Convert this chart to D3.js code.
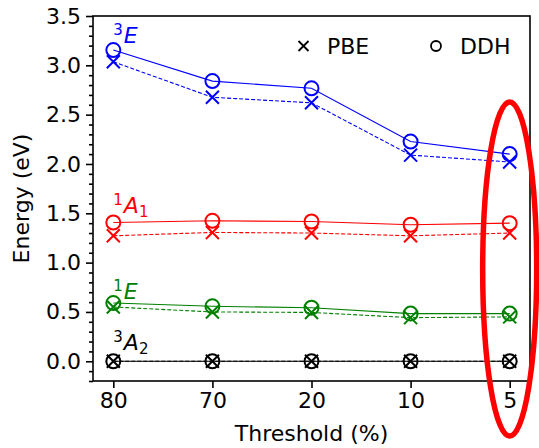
<!DOCTYPE html>
<html><head><meta charset="utf-8">
<script src="https://cdn.jsdelivr.net/npm/d3@7"></script>
<style>body{margin:0;background:#fff;} svg{display:block;font-family:"DejaVu Sans",sans-serif;}</style>
</head><body>
<svg id="c" width="539" height="448"></svg>
<script>
const thresholds = ["80","70","20","10","5"];
const states = ["3E","1A1","1E","3A2"];
const colors = ["#0000ff","#ff0000","#008000","#000000"];
const ddh = [
  [3.155, 2.84, 2.767, 2.227, 2.10],
  [1.407, 1.424, 1.417, 1.384, 1.40],
  [0.59, 0.557, 0.543, 0.483, 0.483],
  [0, 0, 0, 0, 0]
];
const pbe = [
  [3.036, 2.676, 2.62, 2.09, 2.02],
  [1.272, 1.306, 1.30, 1.272, 1.30],
  [0.55, 0.50, 0.495, 0.442, 0.45],
  [0, 0, 0, 0, 0]
];
const labelY = [3.226, 1.505, 0.635, 0.11];
const labelSup = ["3","1","1","3"];
const labelMain = ["E","A","E","A"];
const labelSub = ["","1","","2"];
const yTicks = [0,0.5,1.0,1.5,2.0,2.5,3.0,3.5];

const svg = d3.select("#c");
const L=93, R=530, T=16, B=381;
const FS=22;
const x = d3.scaleLinear().domain([-0.205,4.205]).range([L,R]);
const y = d3.scaleLinear().domain([-0.2,3.5]).range([B,T]);

// y axis major
svg.append("g").attr("transform",`translate(${L},0)`)
  .call(d3.axisLeft(y).tickValues(yTicks).tickFormat(d3.format(".1f")).tickSize(7).tickPadding(5));
// y minor
const minor = d3.range(-2,36).map(i=>i/10).filter(v=>Math.abs(v*2-Math.round(v*2))>1e-6);
svg.append("g").attr("transform",`translate(${L},0)`)
  .call(d3.axisLeft(y).tickValues(minor).tickFormat("").tickSize(4))
  .call(g=>g.select(".domain").remove());
// x axis
svg.append("g").attr("transform",`translate(0,${B})`)
  .call(d3.axisBottom(x).tickValues(d3.range(thresholds.length)).tickFormat(i=>thresholds[i]).tickSize(7).tickPadding(4));
svg.selectAll(".tick text").attr("font-size",FS).attr("font-family","DejaVu Sans").attr("fill","#000");
svg.selectAll(".tick line").attr("stroke","#000").attr("stroke-width",1.6);
svg.selectAll(".domain").remove();
// frame
svg.append("rect").attr("x",L).attr("y",T).attr("width",R-L).attr("height",B-T)
  .attr("fill","none").attr("stroke","#000").attr("stroke-width",1.6);

const line = d3.line().x((d,i)=>x(i)).y(d=>y(d));
states.forEach((s,k)=>{
  const g = svg.append("g");
  g.append("path").attr("d",line(pbe[k])).attr("fill","none").attr("stroke",colors[k])
    .attr("stroke-width",1.1).attr("stroke-dasharray","4,2");
  g.append("path").attr("d",line(ddh[k])).attr("fill","none").attr("stroke",colors[k])
    .attr("stroke-width",1.1);
  pbe[k].forEach((v,i)=>{
    const cx=x(i), cy=y(v), h=6.5;
    g.append("path").attr("d",`M${cx-h},${cy-h}L${cx+h},${cy+h}M${cx-h},${cy+h}L${cx+h},${cy-h}`)
      .attr("stroke",colors[k]).attr("stroke-width",2).attr("fill","none");
  });
  ddh[k].forEach((v,i)=>{
    g.append("circle").attr("cx",x(i)).attr("cy",y(v)).attr("r",7)
      .attr("fill","none").attr("stroke",colors[k]).attr("stroke-width",2);
  });
  const t = svg.append("text").attr("x",x(0)).attr("y",y(labelY[k])).attr("fill",colors[k]).attr("font-size",FS);
  t.append("tspan").attr("font-size",15).attr("dy",-8).text(labelSup[k]);
  t.append("tspan").attr("font-style","italic").attr("dy",8).attr("dx",1).text(labelMain[k]);
  if(labelSub[k]) t.append("tspan").attr("font-size",15).attr("dy",4).text(labelSub[k]);
});

// legend
const lg = svg.append("g");
const lx1=303.5, ly=46;
lg.append("path").attr("d",`M${lx1-5},${ly-5}L${lx1+5},${ly+5}M${lx1-5},${ly+5}L${lx1+5},${ly-5}`)
  .attr("stroke","#000").attr("stroke-width",1.8);
lg.append("text").attr("x",327).attr("y",ly+8).attr("font-size",FS).text("PBE");
lg.append("circle").attr("cx",436).attr("cy",ly).attr("r",5).attr("fill","none").attr("stroke","#000").attr("stroke-width",1.8);
lg.append("text").attr("x",460).attr("y",ly+8).attr("font-size",FS).text("DDH");

// axis titles
svg.append("text").attr("transform",`translate(29,${(T+B)/2}) rotate(-90)`).attr("text-anchor","middle")
  .attr("font-size",FS).text("Energy (eV)");
svg.append("text").attr("x",(L+R)/2).attr("y",441).attr("text-anchor","middle")
  .attr("font-size",FS).text("Threshold (%)");

// highlight ellipse
svg.append("ellipse").attr("cx",x(4)).attr("cy",269).attr("rx",27).attr("ry",167)
  .attr("fill","none").attr("stroke","#ff0000").attr("stroke-width",5.5);
</script>
</body></html>
